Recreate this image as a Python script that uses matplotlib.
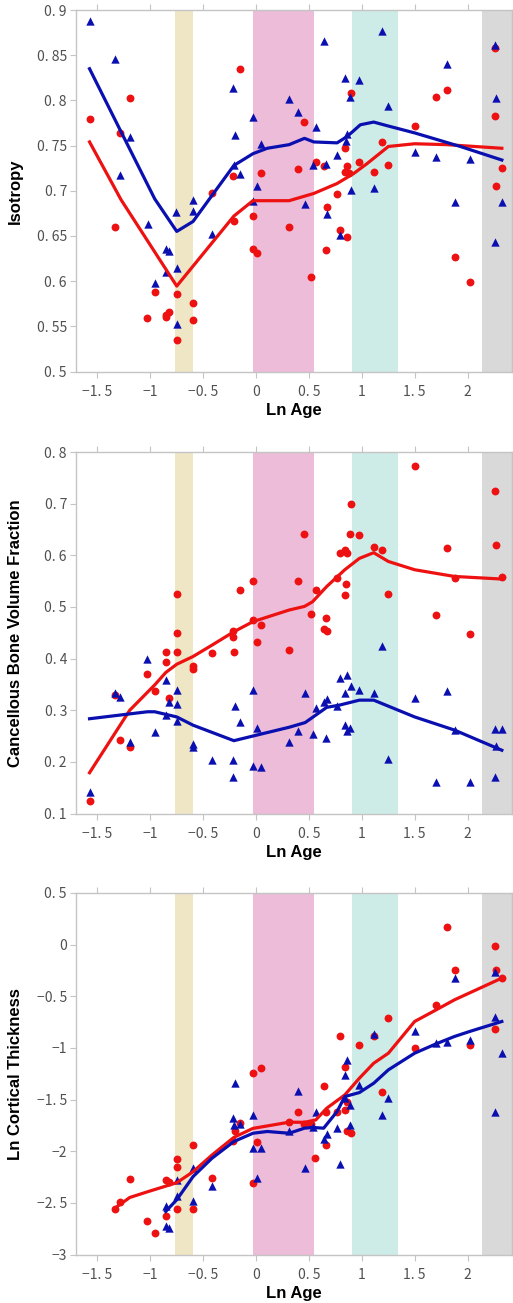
import matplotlib
matplotlib.use("Agg")
import matplotlib.pyplot as plt
import numpy as np

# ---------------- data ----------------
x_ticks = [-1.5, -1, -0.5, 0, 0.5, 1, 1.5, 2]
x_tick_labels = ["\u22121. 5", "\u22121", "\u22120. 5", "0", "0. 5", "1", "1. 5", "2"]

bands = [(-0.76, -0.59), (-0.03, 0.545), (0.91, 1.34), (2.14, 2.6)]
band_colors = ["#efe6c6", "#ecbcd9", "#cdece8", "#d9d9d9"]

# Panel 1: Isotropy
p1_yticks = [0.5, 0.55, 0.6, 0.65, 0.7, 0.75, 0.8, 0.85, 0.9]
p1_ytick_labels = ["0. 5", "0. 55", "0. 6", "0. 65", "0. 7", "0. 75", "0. 8", "0. 85", "0. 9"]
p1_blue_x = [-1.572, -1.336, -1.193, -1.286, -0.753, -0.594, -0.594, -0.214, -0.195, -0.204,
             -0.151, -0.028, 0.044, 0.006, -0.028, 0.314, 0.396, 0.566, 0.535, 0.465,
             0.640, 0.660, 0.669, 0.767, 0.840, 0.855, 0.862, 0.887, 0.902, 0.978,
             1.195, 1.252, 1.113, 1.500, 1.704, 1.805, 2.019, 1.877, 2.255, 2.270,
             2.324, 2.255, 0.792, -1.019, -0.956, -0.852, -0.818, -0.852, -0.748, -0.748,
             -0.412]
p1_blue_y = [0.888, 0.846, 0.759, 0.717, 0.676, 0.690, 0.678, 0.814, 0.762, 0.728,
             0.718, 0.782, 0.752, 0.705, 0.689, 0.802, 0.787, 0.770, 0.728, 0.685,
             0.866, 0.730, 0.674, 0.740, 0.825, 0.755, 0.763, 0.804, 0.701, 0.822,
             0.877, 0.794, 0.703, 0.743, 0.737, 0.840, 0.735, 0.688, 0.861, 0.803,
             0.688, 0.643, 0.651, 0.663, 0.598, 0.635, 0.633, 0.610, 0.615, 0.553,
             0.652]
p1_red_x = [-1.572, -1.286, -1.192, -0.151, -0.214, -0.415, 0.044, -0.028, 0.459, 0.396,
            0.566, 0.640, 0.767, 0.669, 0.840, 0.862, 0.840, 0.877, 0.902, 0.978,
            1.113, 1.195, 1.252, 1.500, 1.704, 1.805, 2.255, 2.255, 2.267, 2.324,
            -1.336, -0.208, -0.028, 0.006, 0.314, 0.525, 0.660, 0.792, 0.862, 1.877,
            2.019, -0.956, -1.025, -0.852, -0.818, -0.852, -0.748, -0.748, -0.594, -0.594]
p1_red_y = [0.779, 0.764, 0.803, 0.835, 0.716, 0.698, 0.720, 0.672, 0.776, 0.724,
            0.732, 0.727, 0.696, 0.682, 0.747, 0.727, 0.721, 0.720, 0.808, 0.732,
            0.721, 0.754, 0.729, 0.772, 0.804, 0.811, 0.858, 0.783, 0.705, 0.725,
            0.660, 0.667, 0.636, 0.631, 0.660, 0.605, 0.634, 0.657, 0.649, 0.627,
            0.599, 0.588, 0.559, 0.562, 0.566, 0.560, 0.586, 0.535, 0.576, 0.557]
p1_blue_fit_x = [-1.572, -1.286, -0.956, -0.748, -0.594, -0.208, -0.028, 0.107, 0.314, 0.459,
                 0.547, 0.767, 0.862, 0.987, 1.113, 1.239, 1.5, 1.931, 2.324]
p1_blue_fit_y = [0.835, 0.768, 0.691, 0.655, 0.666, 0.728, 0.741, 0.747, 0.751, 0.758,
                 0.754, 0.753, 0.760, 0.773, 0.776, 0.772, 0.764, 0.749, 0.734]
p1_red_fit_x = [-1.572, -1.274, -0.748, -0.208, -0.028, 0.075, 0.314, 0.547, 0.767, 0.923,
                1.05, 1.252, 1.5, 1.805, 2.324]
p1_red_fit_y = [0.754, 0.690, 0.5945, 0.672, 0.689, 0.689, 0.689, 0.697, 0.708, 0.719,
                0.730, 0.749, 0.752, 0.751, 0.747]

# Panel 2: Cancellous Bone Volume Fraction
p2_yticks = [0.1, 0.2, 0.3, 0.4, 0.5, 0.6, 0.7, 0.8]
p2_ytick_labels = ["0. 1", "0. 2", "0. 3", "0. 4", "0. 5", "0. 6", "0. 7", "0. 8"]
p2_red_x = [-0.748, -0.748, -0.151, -0.028, -0.028, 0.044, 0.396, 0.459, 0.566, 0.525,
            0.660, 0.640, 0.669, 0.767, 0.792, 0.840, 0.862, 0.840, 0.855, 0.887,
            0.902, 0.978, 1.113, 1.195, 1.252, 1.500, 1.704, 1.805, 1.877, 2.019,
            2.255, 2.267, 2.324, -0.748, -0.852, -0.852, -1.025, -0.956, -0.818, -0.594,
            -0.594, -0.415, -0.214, -0.208, -0.214, 0.006, 0.314, -1.336, -1.286, -1.192,
            -1.572]
p2_red_y = [0.525, 0.449, 0.532, 0.550, 0.475, 0.465, 0.551, 0.642, 0.532, 0.487,
            0.479, 0.457, 0.454, 0.556, 0.604, 0.611, 0.605, 0.523, 0.545, 0.641,
            0.699, 0.640, 0.617, 0.610, 0.525, 0.773, 0.485, 0.615, 0.556, 0.447,
            0.725, 0.620, 0.557, 0.413, 0.412, 0.393, 0.370, 0.338, 0.324, 0.386,
            0.379, 0.410, 0.441, 0.412, 0.453, 0.433, 0.416, 0.329, 0.242, 0.229,
            0.1245]
p2_blue_x = [-1.572, -1.336, -1.286, -1.192, -1.025, -0.956, -0.852, -0.852, -0.818, -0.748,
             -0.748, -0.748, -0.594, -0.594, -0.412, -0.214, -0.214, -0.195, -0.151, -0.028,
             0.006, -0.028, 0.044, 0.314, 0.396, 0.465, 0.535, 0.566, 0.640, 0.660,
             0.669, 0.767, 0.792, 0.840, 0.862, 0.840, 0.862, 0.887, 0.902, 0.978,
             1.113, 1.195, 1.252, 1.500, 1.704, 1.805, 1.877, 2.019, 2.255, 2.255,
             2.324, 2.267]
p2_blue_y = [0.141, 0.334, 0.326, 0.238, 0.400, 0.258, 0.358, 0.291, 0.316, 0.340,
             0.313, 0.280, 0.234, 0.229, 0.203, 0.203, 0.171, 0.309, 0.277, 0.340,
             0.265, 0.192, 0.191, 0.238, 0.260, 0.334, 0.254, 0.304, 0.315, 0.247,
             0.322, 0.308, 0.362, 0.334, 0.368, 0.271, 0.260, 0.265, 0.346, 0.340,
             0.333, 0.425, 0.205, 0.324, 0.161, 0.338, 0.262, 0.161, 0.171, 0.263,
             0.263, 0.231]
p2_blue_fit_x = [-1.572, -1.025, -0.956, -0.748, -0.594, -0.208, -0.028, 0.314, 0.465, 0.669,
                 0.792, 0.978, 1.113, 1.5, 1.877, 2.324]
p2_blue_fit_y = [0.2835, 0.297, 0.297, 0.287, 0.271, 0.241, 0.250, 0.267, 0.276, 0.3055,
                 0.310, 0.3195, 0.3195, 0.287, 0.2615, 0.2225]
p2_red_fit_x = [-1.572, -1.192, -0.956, -0.852, -0.748, -0.594, -0.415, -0.208, -0.028, 0.314,
                0.459, 0.535, 0.669, 0.840, 0.978, 1.113, 1.252, 1.5, 1.877, 2.324]
p2_red_fit_y = [0.179, 0.300, 0.349, 0.373, 0.389, 0.404, 0.426, 0.452, 0.4715, 0.494,
                0.501, 0.510, 0.5395, 0.572, 0.594, 0.605, 0.588, 0.572, 0.559, 0.554]

# Panel 3: Ln Cortical Thickness
p3_yticks = [-3, -2.5, -2, -1.5, -1, -0.5, 0, 0.5]
p3_ytick_labels = ["\u22123", "\u22122. 5", "\u22122", "\u22121. 5", "\u22121", "\u22120. 5", "0", "0. 5"]
p3_red_x = [1.805, 2.255, 2.267, 1.877, 2.324, 1.704, 1.252, 2.255, 0.792, 1.113,
            0.978, 1.500, 2.019, 0.044, 0.840, -0.028, 0.640, 1.195, 0.396, 0.666,
            0.767, 0.862, 0.840, 0.314, 0.459, 0.525, 0.862, 0.902, -0.151, -0.195,
            -0.214, 0.006, 0.660, 0.560, -0.594, -0.748, -0.748, -0.415, -1.192, -0.852,
            -0.818, -0.028, -1.286, -1.336, -0.748, -0.594, -0.852, -1.025, -0.956]
p3_red_y = [0.170, -0.017, -0.250, -0.250, -0.324, -0.582, -0.712, -0.812, -0.889, -0.889,
            -0.970, -1.002, -0.967, -1.196, -1.187, -1.238, -1.368, -1.423, -1.616, -1.616,
            -1.616, -1.519, -1.600, -1.719, -1.739, -1.739, -1.809, -1.826, -1.729, -1.800,
            -1.900, -1.910, -1.942, -2.061, -1.939, -2.074, -2.155, -2.262, -2.268, -2.278,
            -2.297, -2.304, -2.495, -2.563, -2.557, -2.557, -2.628, -2.673, -2.789]
p3_blue_x = [2.255, 1.877, 2.255, 1.500, 1.113, 1.805, 1.704, 2.019, 2.324, 0.862,
             0.840, 0.978, 1.252, 1.195, 2.255, 0.840, 0.887, 0.396, 0.566, 0.314,
             0.535, 0.669, 0.640, 0.767, 0.887, 0.792, 0.465, 0.006, -0.028, 0.044,
             -0.028, -0.214, -0.195, -0.204, -0.151, -0.594, -0.412, -0.748, -0.748, -0.594,
             -0.852, -0.852, -0.818]
p3_blue_y = [-0.269, -0.324, -0.696, -0.834, -0.864, -0.944, -0.954, -0.928, -1.051, -1.116,
             -1.259, -1.363, -1.486, -1.649, -1.616, -1.486, -1.550, -1.416, -1.623, -1.803,
             -1.764, -1.838, -1.884, -1.780, -1.748, -2.120, -2.162, -2.259, -1.968, -1.968,
             -1.652, -1.678, -1.342, -1.748, -1.732, -2.162, -2.333, -2.281, -2.436, -2.478,
             -2.535, -2.725, -2.741]
p3_blue_fit_x = [-0.852, -0.748, -0.594, -0.415, -0.208, -0.028, 0.107, 0.314, 0.459, 0.535,
                 0.640, 0.767, 0.840, 0.978, 1.113, 1.252, 1.5, 1.704, 1.877, 2.019, 2.324]
p3_blue_fit_y = [-2.583, -2.470, -2.246, -2.068, -1.906, -1.826, -1.809, -1.826, -1.777, -1.770,
                 -1.777, -1.616, -1.471, -1.432, -1.342, -1.212, -1.051, -0.960, -0.889, -0.841,
                 -0.744]
p3_red_fit_x = [-1.336, -1.192, -1.025, -0.852, -0.748, -0.594, -0.415, -0.208, -0.028, 0.314,
                0.459, 0.566, 0.669, 0.840, 0.978, 1.113, 1.252, 1.5, 1.704, 1.877, 2.324]
p3_red_fit_y = [-2.554, -2.448, -2.393, -2.338, -2.305, -2.199, -2.037, -1.866, -1.779, -1.719,
                -1.720, -1.697, -1.584, -1.455, -1.293, -1.148, -1.051, -0.744, -0.631, -0.534,
                -0.324]

panels = [
    dict(label="Isotropy", ylim=(0.5, 0.9), yticks=p1_yticks, ytl=p1_ytick_labels,
         rx=p1_red_x, ry=p1_red_y, bx=p1_blue_x, by=p1_blue_y,
         rfx=p1_red_fit_x, rfy=p1_red_fit_y, bfx=p1_blue_fit_x, bfy=p1_blue_fit_y),
    dict(label="Cancellous Bone Volume Fraction", ylim=(0.1, 0.8), yticks=p2_yticks, ytl=p2_ytick_labels,
         rx=p2_red_x, ry=p2_red_y, bx=p2_blue_x, by=p2_blue_y,
         rfx=p2_red_fit_x, rfy=p2_red_fit_y, bfx=p2_blue_fit_x, bfy=p2_blue_fit_y),
    dict(label="Ln Cortical Thickness", ylim=(-3, 0.5), yticks=p3_yticks, ytl=p3_ytick_labels,
         rx=p3_red_x, ry=p3_red_y, bx=p3_blue_x, by=p3_blue_y,
         rfx=p3_red_fit_x, rfy=p3_red_fit_y, bfx=p3_blue_fit_x, bfy=p3_blue_fit_y),
]

RED = "#ee1111"
BLUE = "#0a0fb0"
SPINE = "#c4c4c4"
TICKTXT = "#505050"

W, H = 513, 1303
fig = plt.figure(figsize=(W / 100, H / 100), dpi=100)
fig.patch.set_facecolor("white")

tops = [10, 452, 893]
ax_h = 361.5
left_px, right_px = 76, 512

for p, top in zip(panels, tops):
    ax = fig.add_axes([left_px / W, 1 - (top + ax_h) / H, (right_px - left_px) / W, ax_h / H])
    ax.set_xlim(-1.7, 2.42)
    ax.set_ylim(*p["ylim"])
    for (a, b), c in zip(bands, band_colors):
        ax.axvspan(a, b, color=c, lw=0, zorder=0)
    ax.scatter(p["rx"], p["ry"], s=32, marker="o", color=RED, lw=0, zorder=3)
    ax.scatter(p["bx"], p["by"], s=36, marker="^", color=BLUE, lw=0, zorder=3)
    ax.plot(p["rfx"], p["rfy"], color=RED, lw=2.3, zorder=4, solid_joinstyle="round")
    ax.plot(p["bfx"], p["bfy"], color=BLUE, lw=2.3, zorder=4, solid_joinstyle="round")

    for s in ax.spines.values():
        s.set_color(SPINE)
        s.set_linewidth(1.0)
    ax.set_xticks(x_ticks)
    ax.set_xticklabels(x_tick_labels)
    ax.set_yticks(p["yticks"])
    ax.set_yticklabels(p["ytl"])
    ax.tick_params(axis="both", direction="out", length=4.5, width=0.8, color=SPINE,
                   labelcolor=TICKTXT, labelsize=10, pad=2,
                   top=True, right=True)
    ax.tick_params(axis="x", pad=5.5)
    for t in ax.get_xticklabels() + ax.get_yticklabels():
        t.set_fontfamily(["Noto Sans CJK JP", "DejaVu Sans"])
    ax.set_xlabel("Ln Age", fontsize=12, fontweight="bold", family="Liberation Sans")
    ax.set_ylabel(p["label"], fontsize=12, fontweight="bold", family="Liberation Sans")
    ax.xaxis.set_label_coords(0.5, -0.088)
    ax.yaxis.set_label_coords(-0.121, 0.5)

fig.savefig("out.png", dpi=100)
